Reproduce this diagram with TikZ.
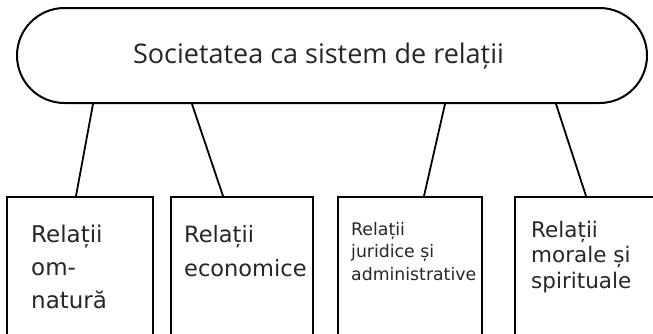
\documentclass[tikz,border=0pt]{standalone}
\usepackage{fontspec}
\setmainfont{DejaVu Sans}
\newfontfamily\titlefont{Open Sans}
\usetikzlibrary{shapes.misc}

\tikzset{
  soccap/.style={rounded rectangle,draw=black,line width=2pt,minimum width=630pt,minimum height=95pt,inner sep=0pt},
  relbox/.style={rectangle,draw=black,line width=2pt,minimum height=170pt,inner sep=0pt},
  reltext/.style={anchor=base west,align=left,inner sep=0pt,text=black!85},
  link/.style={line width=1.8pt}
}

\begin{document}
\begin{tikzpicture}[x=1pt,y=-1pt]
\useasboundingbox (0,0) rectangle (653,333);
\clip (0,0) rectangle (653,333);
% societatea
\node[soccap] (soc) at (332,55.5) {};
\node[inner sep=0pt,font=\titlefont\fontsize{27}{30}\selectfont,text=black!85] (soctext) at (318.5,56) {Societatea ca sistem de relații};
% relatii
\node[relbox,minimum width=146pt] (b1) at (80,282) {};
\node[relbox,minimum width=142pt] (b2) at (242,282) {};
\node[relbox,minimum width=144pt] (b3) at (410,282) {};
\node[relbox,minimum width=146pt] (b4) at (588,282) {};
\node[reltext,font=\fontsize{23}{33}\selectfont] (t1) at (31,308) {Relații\\om-\\natură};
\node[reltext,font=\fontsize{22.5}{34}\selectfont] (t2) at (184,276) {Relații\\economice};
\node[reltext,font=\fontsize{17.3}{22.5}\selectfont] (t3) at (351,280) {Relații\\juridice și\\administrative};
\node[reltext,font=\fontsize{21.5}{25.5}\selectfont] (t4) at (531,288) {Relații\\morale și\\spirituale};
% legaturi
\draw[link] (93,0 |- soc.south) -- (76,0 |- b1.north);
\draw[link] (192,0 |- soc.south) -- (223,0 |- b2.north);
\draw[link] (445,0 |- soc.south) -- (424,0 |- b3.north);
\draw[link] (556,0 |- soc.south) -- (586,0 |- b4.north);
\end{tikzpicture}
\end{document}
